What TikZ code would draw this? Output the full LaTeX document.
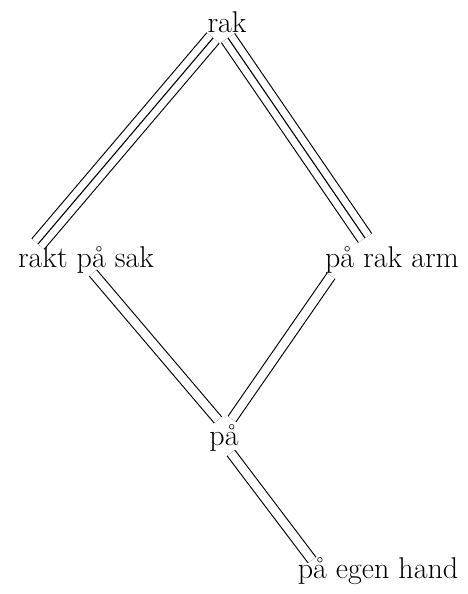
\documentclass[tikz,border=0pt]{standalone}
\usetikzlibrary{calc}
\begin{document}
\begin{tikzpicture}[x=1pt,y=-1pt,
  lbl/.style={anchor=base,inner sep=0pt,font=\fontsize{30}{35}\selectfont},
  dbl/.style={line width=1.1pt,double=white,double distance=8.5pt},
  trpl/.style={line width=1.1pt,double=white,double distance=15pt},
  mid/.style={line width=1.1pt}]
\useasboundingbox[fill=white] (0,0) rectangle (468,594);
\node[lbl] (rak) at (227,33) {rak};
\node[lbl] (rsak) at (86,267) {rakt på sak};
\node[lbl] (rarm) at (392,267) {på rak arm};
\node[lbl] (pa) at (224,445) {på};
\node[lbl] (hand) at (378,578) {på egen hand};
% triple lines
\draw[trpl] ($(rak.base)+(-14,5)$) -- ($(rsak.base)+(-48,-23)$);
\draw[mid] ($(rak.base)+(-14,5)$) -- ($(rsak.base)+(-48,-23)$);
\draw[trpl] ($(rak.base)+(1,5)$) -- ($(rarm.base)+(-27,-29)$);
\draw[mid] ($(rak.base)+(1,5)$) -- ($(rarm.base)+(-27,-29)$);
% double lines
\draw[dbl] ($(rsak.base)+(7,6)$) -- ($(pa.base)+(-6,-25)$);
\draw[dbl] ($(rarm.base)+(-61,9)$) -- ($(pa.base)+(8,-26)$);
\draw[dbl] ($(pa.base)+(7,8)$) -- ($(hand.base)+(-66,-18)$);
\end{tikzpicture}
\end{document}
